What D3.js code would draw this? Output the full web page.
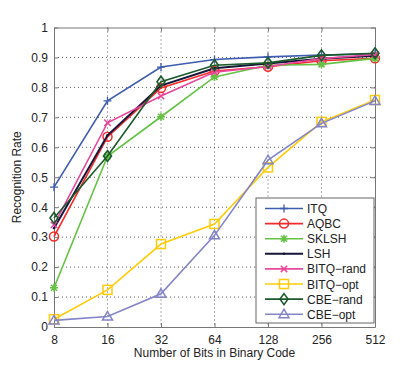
<!DOCTYPE html>
<html>
<head>
<meta charset="utf-8">
<script src="https://cdn.jsdelivr.net/npm/d3@7"></script>
<style>
  body { margin: 0; background: #fff; }
  text { font-family: "Liberation Sans", Arial, sans-serif; fill: #222; }
</style>
</head>
<body>
<div id="chart"></div>
<script>
var bits = [8, 16, 32, 64, 128, 256, 512];
var yTicks = [0, 0.1, 0.2, 0.3, 0.4, 0.5, 0.6, 0.7, 0.8, 0.9, 1];

var itq      = [0.467, 0.755, 0.868, 0.893, 0.902, 0.908, 0.912];
var aqbc     = [0.302, 0.635, 0.798, 0.855, 0.869, 0.889, 0.897];
var sklsh    = [0.131, 0.570, 0.702, 0.835, 0.874, 0.877, 0.897];
var lsh      = [0.330, 0.640, 0.806, 0.864, 0.880, 0.896, 0.906];
var bitqRand = [0.341, 0.682, 0.771, 0.851, 0.870, 0.896, 0.910];
var bitqOpt  = [0.026, 0.124, 0.277, 0.344, 0.533, 0.685, 0.758];
var cbeRand  = [0.364, 0.571, 0.819, 0.874, 0.882, 0.907, 0.914];
var cbeOpt   = [0.022, 0.035, 0.111, 0.306, 0.557, 0.680, 0.755];

var series = [
  {name: "ITQ", values: itq, color: "#3e5cb0", marker: "plus"},
  {name: "AQBC", values: aqbc, color: "#f42a2a", marker: "circle"},
  {name: "SKLSH", values: sklsh, color: "#66c244", marker: "star"},
  {name: "LSH", values: lsh, color: "#16163a", marker: "dot"},
  {name: "BITQ\u2212rand", values: bitqRand, color: "#e8479c", marker: "cross"},
  {name: "BITQ\u2212opt", values: bitqOpt, color: "#ffcc0a", marker: "square"},
  {name: "CBE\u2212rand", values: cbeRand, color: "#1c5a2c", marker: "diamond"},
  {name: "CBE\u2212opt", values: cbeOpt, color: "#8484c8", marker: "triangle"}
];

var width = 415, height = 369;
var margin = {top: 27.5, right: 40, bottom: 42, left: 54};
var w = width - margin.left - margin.right;
var h = height - margin.top - margin.bottom;

var svg = d3.select("#chart").append("svg")
  .attr("width", width).attr("height", height);
var g = svg.append("g").attr("transform", "translate(" + margin.left + "," + margin.top + ")");

var x = d3.scaleLog().base(2).domain([8, 512]).range([0, w]);
var y = d3.scaleLinear().domain([0, 1]).range([h, 0]);

// grid
g.append("g").selectAll("line").data(bits.slice(1, -1)).enter().append("line")
  .attr("x1", function(d) { return x(d); }).attr("x2", function(d) { return x(d); })
  .attr("y1", 0).attr("y2", h)
  .attr("stroke", "#333").attr("stroke-width", 0.8).attr("stroke-dasharray", "1,3");
g.append("g").selectAll("line").data(yTicks.slice(1, -1)).enter().append("line")
  .attr("y1", function(d) { return y(d); }).attr("y2", function(d) { return y(d); })
  .attr("x1", 0).attr("x2", w)
  .attr("stroke", "#333").attr("stroke-width", 0.8).attr("stroke-dasharray", "1,3");

// axes
var xAxis = d3.axisBottom(x).tickValues(bits).tickFormat(d3.format("d")).tickSizeInner(-4).tickSizeOuter(0).tickPadding(8);
var yAxis = d3.axisLeft(y).tickValues(yTicks).tickFormat(function(d) { return d === 0 || d === 1 ? d : d.toFixed(1); })
  .tickSizeInner(-4).tickSizeOuter(0).tickPadding(6);
var xTop = d3.axisTop(x).tickValues(bits).tickFormat("").tickSizeInner(-4).tickSizeOuter(0);
var yRight = d3.axisRight(y).tickValues(yTicks).tickFormat("").tickSizeInner(-4).tickSizeOuter(0);

function styleAxis(sel) {
  sel.selectAll("path, line").attr("stroke", "#777").attr("stroke-width", 1);
  sel.selectAll("text").attr("font-size", 12).attr("fill", "#222")
    .attr("font-family", "'Liberation Sans', Arial, sans-serif");
}
g.append("g").attr("transform", "translate(0," + h + ")").call(xAxis).call(styleAxis);
g.append("g").call(yAxis).call(styleAxis);
g.append("g").call(xTop).call(styleAxis);
g.append("g").attr("transform", "translate(" + w + ",0)").call(yRight).call(styleAxis);

// markers
function drawMarker(sel, type, color) {
  var s = 4;
  if (type === "plus") {
    sel.append("path").attr("d", "M" + (-s) + ",0H" + s + "M0," + (-s) + "V" + s)
      .attr("stroke", color).attr("stroke-width", 1.3).attr("fill", "none");
  } else if (type === "circle") {
    sel.append("circle").attr("r", 4.5).attr("fill", "none").attr("stroke", color).attr("stroke-width", 1.5);
  } else if (type === "star") {
    sel.append("path").attr("d", "M-4,0H4M0,-4V4M-3,-3L3,3M-3,3L3,-3")
      .attr("stroke", color).attr("stroke-width", 1.6).attr("fill", "none");
    sel.append("circle").attr("r", 2.2).attr("fill", color);
  } else if (type === "dot") {
    sel.append("circle").attr("r", 1.2).attr("fill", color);
  } else if (type === "cross") {
    sel.append("path").attr("d", "M-3.2,-3.2L3.2,3.2M-3.2,3.2L3.2,-3.2")
      .attr("stroke", color).attr("stroke-width", 1.5).attr("fill", "none");
  } else if (type === "square") {
    sel.append("rect").attr("x", -4.5).attr("y", -4.5).attr("width", 9).attr("height", 9)
      .attr("fill", "none").attr("stroke", color).attr("stroke-width", 1.5);
  } else if (type === "diamond") {
    sel.append("path").attr("d", "M0,-5.5L4,0L0,5.5L-4,0Z")
      .attr("fill", "none").attr("stroke", color).attr("stroke-width", 1.6);
  } else if (type === "triangle") {
    sel.append("path").attr("d", "M0,-5L5,3.5H-5Z")
      .attr("fill", "none").attr("stroke", color).attr("stroke-width", 1.5);
  }
}

var line = d3.line()
  .x(function(d, i) { return x(bits[i]); })
  .y(function(d) { return y(d); });

series.forEach(function(s) {
  var sg = g.append("g");
  sg.append("path").datum(s.values).attr("d", line)
    .attr("fill", "none").attr("stroke", s.color).attr("stroke-width", s.name === "LSH" ? 2 : 1.6);
  sg.selectAll("g.m").data(s.values).enter().append("g").attr("class", "m")
    .attr("transform", function(d, i) { return "translate(" + x(bits[i]) + "," + y(d) + ")"; })
    .each(function() { drawMarker(d3.select(this), s.marker, s.color); });
});

// legend
var legend = g.append("g").attr("transform", "translate(" + (256 - margin.left) + "," + (198 - margin.top) + ")");
legend.append("rect").attr("width", 118).attr("height", 125)
  .attr("fill", "#fff").attr("stroke", "#666").attr("stroke-width", 1);
series.forEach(function(s, i) {
  var ly = 10.5 + i * 15.1;
  var row = legend.append("g").attr("transform", "translate(0," + ly + ")");
  row.append("line").attr("x1", 9).attr("x2", 47).attr("y1", 0).attr("y2", 0)
    .attr("stroke", s.color).attr("stroke-width", s.name === "LSH" ? 2 : 1.6);
  var mk = row.append("g").attr("transform", "translate(28,0)");
  drawMarker(mk, s.marker, s.color);
  row.append("text").attr("x", 51).attr("y", 4.5).attr("font-size", 12).text(s.name);
});

// axis titles
svg.append("text").attr("x", margin.left + w / 2).attr("y", 357)
  .attr("text-anchor", "middle").attr("font-size", 12).text("Number of Bits in Binary Code");
svg.append("text").attr("transform", "translate(21," + (margin.top + h / 2) + ") rotate(-90)")
  .attr("text-anchor", "middle").attr("font-size", 12).text("Recognition Rate");
</script>
</body>
</html>
